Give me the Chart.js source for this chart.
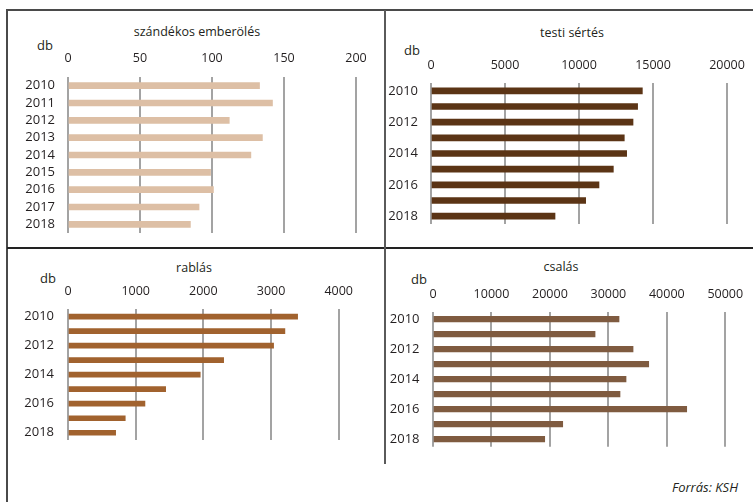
<!DOCTYPE html>
<html lang="hu">
<head>
<meta charset="utf-8">
<title>Bűncselekmények száma, 2010–2018</title>
<script src="https://cdn.jsdelivr.net/npm/chart.js@4.4.1/dist/chart.umd.min.js"></script>
<style>
  html, body { margin: 0; padding: 0; background: #fff; }
  body { width: 753px; height: 502px; position: relative; overflow: hidden;
         font-family: "Open Sans", "Noto Sans", sans-serif; color: #231f20; }
  .line { position: absolute; }
  canvas { position: absolute; }
  .txt { position: absolute; white-space: nowrap; font-size: 12.5px; line-height: 1; }
  .title { transform: translateX(-50%); }
</style>
</head>
<body>
<div class="line" style="left:6px;top:9px;width:747px;height:2px;background:#4a4a4a"></div>
<div class="line" style="left:6px;top:9px;width:2px;height:493px;background:#4a4a4a"></div>
<div class="line" style="left:7px;top:247px;width:746px;height:1.5px;background:#222"></div>
<div class="line" style="left:384px;top:10px;width:1.5px;height:454px;background:#5a5a5a"></div>

<div class="txt title" style="left:197px;top:26px">szándékos emberölés</div>
<div class="txt" style="left:37px;top:39px;font-size:13px">db</div>
<div class="txt title" style="left:572px;top:27px">testi sértés</div>
<div class="txt" style="left:404px;top:44px;font-size:13px">db</div>
<div class="txt title" style="left:194px;top:262px">rablás</div>
<div class="txt" style="left:40px;top:272px;font-size:13px">db</div>
<div class="txt title" style="left:561px;top:261px">csalás</div>
<div class="txt" style="left:411px;top:273px;font-size:13px">db</div>
<div class="txt" style="right:15px;top:481px;font-style:italic;font-size:13px">Forrás: KSH</div>

<canvas id="c1" width="376" height="200" style="left:10px;top:40px"></canvas>
<canvas id="c2" width="367" height="185" style="left:386px;top:45px"></canvas>
<canvas id="c3" width="375" height="200" style="left:10px;top:255px"></canvas>
<canvas id="c4" width="367" height="205" style="left:386px;top:255px"></canvas>

<script>
// Years on the category axis
const years = ["2010", "2011", "2012", "2013", "2014", "2015", "2016", "2017", "2018"];

// Recorded offences per year (db)
const homicide = [133, 142, 112, 135, 127, 99, 101, 91, 85];
const assault  = [14280, 13960, 13650, 13060, 13220, 12320, 11350, 10450, 8380];
const robbery  = [3393, 3205, 3038, 2300, 1954, 1443, 1137, 846, 704];
const fraud    = [31820, 27720, 34220, 36900, 33020, 31990, 43400, 22190, 19110];

// Value-axis ranges: [max, step]
const homicideAxis = [200, 50];
const assaultAxis  = [20000, 5000];
const robberyAxis  = [4000, 1000];
const fraudAxis    = [50000, 10000];

const INK = "#231f20";
const GRID = "#a3a3a3";
const FONT = "'Open Sans', 'Noto Sans', sans-serif";

// Build one horizontal bar panel. `rect` is the canvas box on the page,
// `area` the wanted plot area (page coordinates).
function panel(id, rect, area, values, axis, color, barThickness, everyYear, xPad, yPad) {
  const leftW = area.left - rect.left;
  const topH = area.top - rect.top;
  const padR = rect.left + rect.width - area.right;
  const padB = rect.top + rect.height - area.bottom;
  return new Chart(document.getElementById(id), {
    type: "bar",
    data: {
      labels: years,
      datasets: [{
        data: values,
        backgroundColor: color,
        borderWidth: 0,
        barThickness: barThickness
      }]
    },
    options: {
      indexAxis: "y",
      responsive: false,
      animation: false,
      devicePixelRatio: 1,
      layout: { padding: { left: 0, top: 0, right: padR, bottom: padB } },
      plugins: { legend: { display: false }, tooltip: { enabled: false } },
      scales: {
        x: {
          position: "top",
          min: 0,
          max: axis[0],
          afterFit: s => { s.height = topH; s.paddingLeft = 0; s.paddingRight = 0; },
          ticks: {
            stepSize: axis[1],
            padding: xPad,
            color: INK,
            font: { family: FONT, size: 12.5 },
            maxRotation: 0,
            autoSkip: false,
            callback: v => String(v)
          },
          grid: { color: GRID, lineWidth: 2, drawTicks: false },
          border: { display: false }
        },
        y: {
          afterFit: s => { s.width = leftW; s.paddingTop = 0; s.paddingBottom = 0; },
          ticks: {
            padding: yPad,
            color: INK,
            autoSkip: false,
            font: { family: FONT, size: 13 },
            callback: (v, i) => (everyYear || i % 2 === 0) ? years[i] : ""
          },
          grid: { display: false, drawTicks: false },
          border: { display: false }
        }
      }
    }
  });
}

panel("c1", { left: 10, top: 40, width: 376, height: 200 },
      { left: 68, right: 356, top: 77, bottom: 233 },
      homicide, homicideAxis, "#ddbfa5", 6, true, 11, 13);

panel("c2", { left: 386, top: 45, width: 367, height: 185 },
      { left: 431, right: 727, top: 83, bottom: 224 },
      assault, assaultAxis, "#5b3415", 6, false, 10, 13);

panel("c3", { left: 10, top: 255, width: 375, height: 200 },
      { left: 68, right: 338.7, top: 309.3, bottom: 440 },
      robbery, robberyAxis, "#a1622e", 5, false, 10, 14);

panel("c4", { left: 386, top: 255, width: 367, height: 205 },
      { left: 433, right: 725.3, top: 311.7, bottom: 446.7 },
      fraud, fraudAxis, "#7f5b40", 5.5, false, 10, 13.5);
</script>
</body>
</html>
